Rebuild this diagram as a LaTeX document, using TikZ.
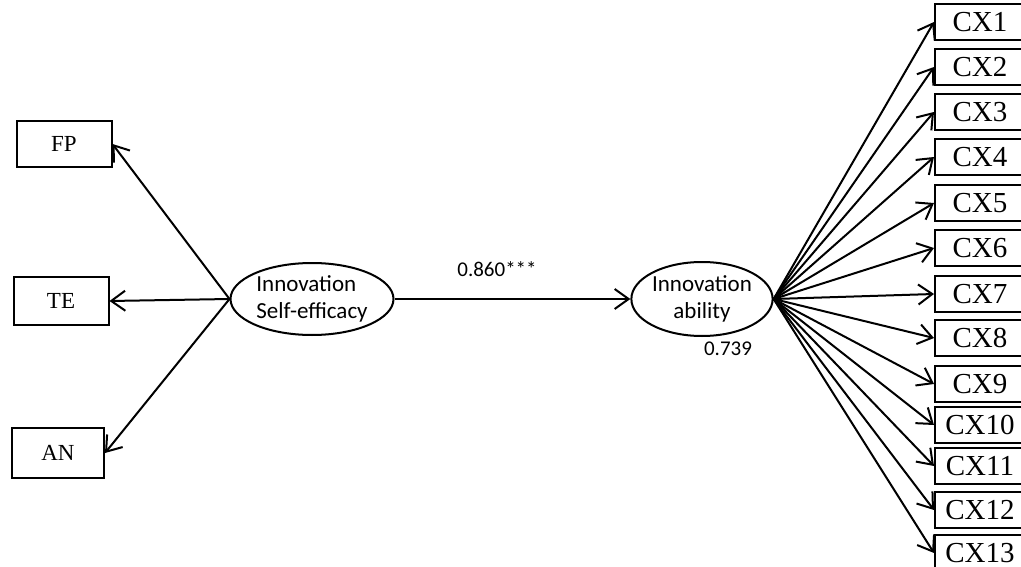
\documentclass[tikz,border=0pt]{standalone}
\usepackage{fontspec}
\setmainfont{Liberation Serif}
\newfontfamily\calibfont{Carlito}
\usetikzlibrary{arrows.meta,shapes.geometric}

\begin{document}
\begin{tikzpicture}[
  x=1pt, y=-1pt,
  item/.style={
    draw=black,
    line width=2pt,
    minimum width=95pt,
    minimum height=46pt,
    inner sep=0pt,
    font=\fontsize{23}{27}\selectfont
  },
  cxitem/.style={item, minimum width=90pt, minimum height=36pt, font=\fontsize{29}{32}\selectfont},
  latent/.style={
    ellipse,
    draw=black,
    line width=2pt,
    inner sep=0pt,
    font=\calibfont\fontsize{23}{27}\selectfont
  },
  coef/.style={font=\calibfont\fontsize{21}{25}\selectfont},
  load/.style={-{Straight Barb[length=14pt,width=20pt]}, line width=2pt, draw=black}
]
\useasboundingbox (0,0) rectangle (1021,567);

% latent variables
\node[latent, minimum width=163pt, minimum height=72pt, align=left] (ise) at (312,299) {Innovation\\Self-efficacy};
\node[latent, minimum width=140pt, minimum height=74pt, align=center] (ia) at (702,299) {Innovation\\ability};

% indicators of self-efficacy
\node[item] (FP) at (64,144) {FP};
\node[item, minimum height=48pt] (TE) at (61,301) {TE};
\node[item, minimum width=92pt, minimum height=50pt] (AN) at (58,453) {AN};

% indicators of ability
\node[cxitem] (CX1) at (980,22) {CX1};
\node[cxitem] (CX2) at (980,67) {CX2};
\node[cxitem] (CX3) at (980,112) {CX3};
\node[cxitem] (CX4) at (980,157) {CX4};
\node[cxitem] (CX5) at (980,203) {CX5};
\node[cxitem] (CX6) at (980,248) {CX6};
\node[cxitem] (CX7) at (980,294) {CX7};
\node[cxitem] (CX8) at (980,338) {CX8};
\node[cxitem] (CX9) at (980,384) {CX9};
\node[cxitem] (CX10) at (980,425) {CX10};
\node[cxitem] (CX11) at (980,466) {CX11};
\node[cxitem] (CX12) at (980,510) {CX12};
\node[cxitem] (CX13) at (980,553) {CX13};

\draw[load] (ise.west) -- (FP.east);
\draw[load] (ise.west) -- (TE.east);
\draw[load] (ise.west) -- (AN.east);

\draw[load] (ise.east) -- (ia.west);
\node[coef] (beta) at (497,269) {0.860***};
\node[coef] (rsq) at (728,349) {0.739};

\draw[load] (ia.east) -- (CX1.west);
\draw[load] (ia.east) -- (CX2.west);
\draw[load] (ia.east) -- (CX3.west);
\draw[load] (ia.east) -- (CX4.west);
\draw[load] (ia.east) -- (CX5.west);
\draw[load] (ia.east) -- (CX6.west);
\draw[load] (ia.east) -- (CX7.west);
\draw[load] (ia.east) -- (CX8.west);
\draw[load] (ia.east) -- (CX9.west);
\draw[load] (ia.east) -- (CX10.west);
\draw[load] (ia.east) -- (CX11.west);
\draw[load] (ia.east) -- (CX12.west);
\draw[load] (ia.east) -- (CX13.west);

\end{tikzpicture}
\end{document}
